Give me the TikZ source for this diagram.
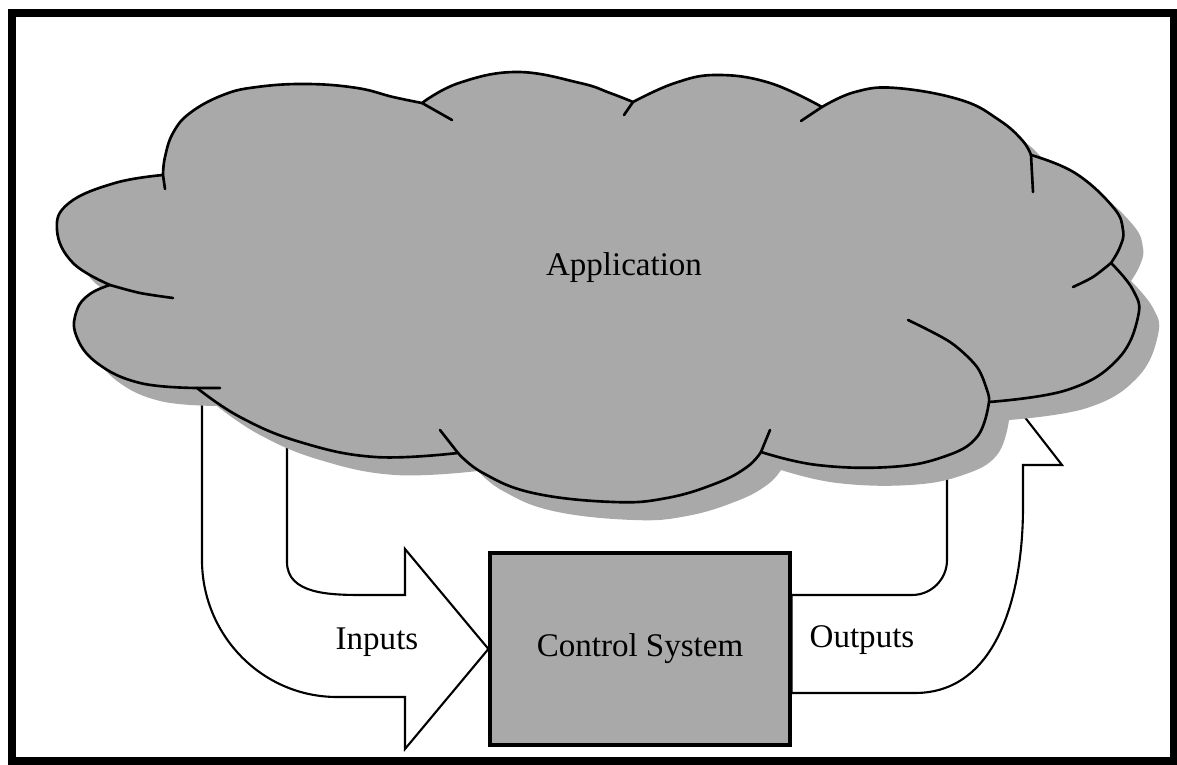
\documentclass[tikz,border=0pt]{standalone}
\usepackage{fontspec}
\setmainfont{Liberation Serif}
\usepackage{tikz}

\definecolor{cloudgray}{RGB}{169,169,169}

% outline of the application cloud, one smooth plot per lobe
\newcommand{\cloudoutline}{(1.63,5.90)
  -- plot[smooth, tension=0.7] coordinates {(1.63,5.90) (1.65,6.08) (1.73,6.32) (1.90,6.52) (2.23,6.70) (2.57,6.78) (3.07,6.81) (3.57,6.77) (3.93,6.68) (4.22,6.62)}
  -- plot[smooth, tension=0.7] coordinates {(4.22,6.62) (4.59,6.82) (5.17,6.93) (5.80,6.82) (6.10,6.72) (6.33,6.63)}
  -- plot[smooth, tension=0.7] coordinates {(6.33,6.63) (6.75,6.82) (7.17,6.90) (7.70,6.82) (8.22,6.58)}
  -- plot[smooth, tension=0.7] coordinates {(8.22,6.58) (8.55,6.73) (8.96,6.77) (9.61,6.65) (9.99,6.45) (10.22,6.25) (10.31,6.10)}
  -- plot[smooth, tension=0.7] coordinates {(10.31,6.10) (10.75,5.92) (11.13,5.58) (11.23,5.35) (11.20,5.18) (11.11,5.02)}
  -- plot[smooth, tension=0.7] coordinates {(11.11,5.02) (11.33,4.75) (11.38,4.48) (11.17,4.05) (10.67,3.75) (9.89,3.63)}
  -- plot[smooth, tension=0.7] coordinates {(9.89,3.63) (9.77,3.28) (9.43,3.08) (8.90,2.98) (8.17,3.00) (7.61,3.13)}
  -- plot[smooth, tension=0.7] coordinates {(7.61,3.13) (7.47,2.98) (7.17,2.82) (6.67,2.67) (6.13,2.63) (5.33,2.72) (4.83,2.92) (4.58,3.12)}
  -- plot[smooth, tension=0.7] coordinates {(4.58,3.12) (3.75,3.08) (3.00,3.23) (2.40,3.48) (1.97,3.77)}
  -- plot[smooth, tension=0.7] coordinates {(1.97,3.77) (1.40,3.82) (0.97,4.02) (0.76,4.30) (0.77,4.55) (0.90,4.71) (1.10,4.80)}
  -- plot[smooth, tension=0.7] coordinates {(1.10,4.80) (0.73,5.02) (0.57,5.35) (0.69,5.62) (1.15,5.82) (1.63,5.90)}
  -- cycle}

\begin{document}
\begin{tikzpicture}[font=\fontsize{9.4}{11}\selectfont,
  cloudline/.style={line width=0.75pt, line cap=round, line join=round},
  blockarrow/.style={draw, fill=white, line width=0.6pt, line join=miter},
  ctrlbox/.style={draw, fill=cloudgray, line width=0.9pt, minimum width=3cm, minimum height=1.92cm}]
\useasboundingbox (0,0) rectangle (11.77,7.65);
\draw[line width=0.8mm] (0.115,0.035) rectangle (11.735,7.515);

\node[ctrlbox] (ctrl) at (6.40,1.16) {Control System};

% block arrows, partly hidden under the cloud
\draw[blockarrow] (2.02,3.90) -- (2.02,2.05) to[out=-90,in=180] (3.37,0.68) -- (4.05,0.68)
  -- (4.05,0.16) -- (ctrl.west) -- (4.05,2.16) -- (4.05,1.70) -- (3.63,1.70)
  to[out=180,in=-90] (2.87,2.03) -- (2.87,3.90) -- cycle;
\draw[blockarrow] (ctrl.east |- 0,0.72) -- (9.15,0.72) to[out=0,in=-90] (10.23,2.58) -- (10.23,3.00)
  -- (10.62,3.00) -- (9.85,3.99) -- (9.08,3.00) -- (9.47,3.00) -- (9.47,2.05)
  to[out=-90,in=0] (9.12,1.70) -- (ctrl.east |- 0,1.70) -- cycle;

% shadow, then the cloud
\fill[cloudgray, shift={(0.20,-0.18)}] \cloudoutline;
\filldraw[fill=cloudgray, cloudline] \cloudoutline;
\draw[cloudline] (1.63,5.90) -- (1.65,5.76) (4.22,6.62) -- (4.52,6.45)
  (6.33,6.63) -- (6.24,6.50) (8.22,6.58) -- (8.01,6.44) (10.31,6.10) -- (10.33,5.73)
  (7.61,3.13) -- (7.70,3.35) (4.58,3.12) -- (4.40,3.35) (1.97,3.77) -- (2.20,3.77);
\draw[cloudline] plot[smooth] coordinates {(11.11,5.02) (10.93,4.88) (10.73,4.78)};
\draw[cloudline] plot[smooth] coordinates {(9.89,3.63) (9.88,3.72) (9.77,3.98) (9.50,4.23) (9.08,4.45)};
\draw[cloudline] plot[smooth] coordinates {(1.10,4.80) (1.40,4.72) (1.73,4.67)};

\node (app) at (6.24,4.97) {Application};
\node (inputs) at (3.77,1.23) {Inputs};
\node (outputs) at (8.62,1.25) {Outputs};
\end{tikzpicture}
\end{document}
